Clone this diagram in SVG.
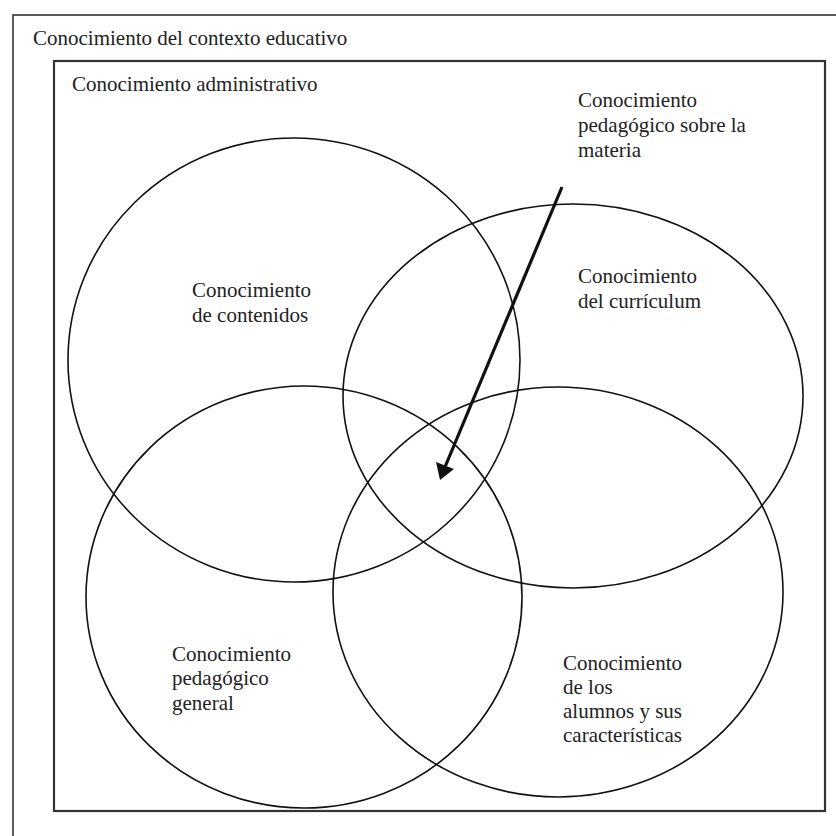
<svg xmlns="http://www.w3.org/2000/svg" width="836" height="836" viewBox="0 0 836 836">
<style>
.t{font-family:"Liberation Serif","Times New Roman",serif;font-size:21px;fill:#222}
.c{fill:none;stroke:#111;stroke-width:1.6}
.box{fill:none;stroke:#333}
</style>
<rect width="836" height="836" fill="#fff"/>
<g id="outer">
<rect class="box" x="13" y="15" width="840" height="840" stroke-width="1.6"/>
<text class="t" x="33" y="45">Conocimiento del contexto educativo</text>
</g>
<g id="inner">
<rect class="box" x="54" y="61" width="771" height="750" stroke-width="2.2"/>
<text class="t" x="72" y="91">Conocimiento administrativo</text>
</g>
<g id="contenidos">
<ellipse class="c" cx="294" cy="360" rx="226" ry="222"/>
<text class="t" x="192" y="297">Conocimiento</text>
<text class="t" x="192" y="322">de contenidos</text>
</g>
<g id="curriculum">
<ellipse class="c" cx="573" cy="396" rx="230" ry="192"/>
<text class="t" x="578" y="283">Conocimiento</text>
<text class="t" x="578" y="308">del currículum</text>
</g>
<g id="pedagogico">
<ellipse class="c" cx="304" cy="597" rx="218" ry="211"/>
<text class="t" x="172" y="661">Conocimiento</text>
<text class="t" x="172" y="685">pedagógico</text>
<text class="t" x="172" y="710">general</text>
</g>
<g id="alumnos">
<ellipse class="c" cx="558" cy="592" rx="225" ry="205"/>
<text class="t" x="563" y="670">Conocimiento</text>
<text class="t" x="563" y="694">de los</text>
<text class="t" x="563" y="718">alumnos y sus</text>
<text class="t" x="563" y="742">características</text>
</g>
<g id="materia">
<text class="t" x="578" y="107">Conocimiento</text>
<text class="t" x="578" y="132">pedagógico sobre la</text>
<text class="t" x="578" y="157">materia</text>
</g>
<g id="connectors">
<line x1="562" y1="187" x2="445" y2="467" stroke="#111" stroke-width="3.2"/>
<polygon points="440,480 436,462 454,469" fill="#111"/>
</g>
</svg>
